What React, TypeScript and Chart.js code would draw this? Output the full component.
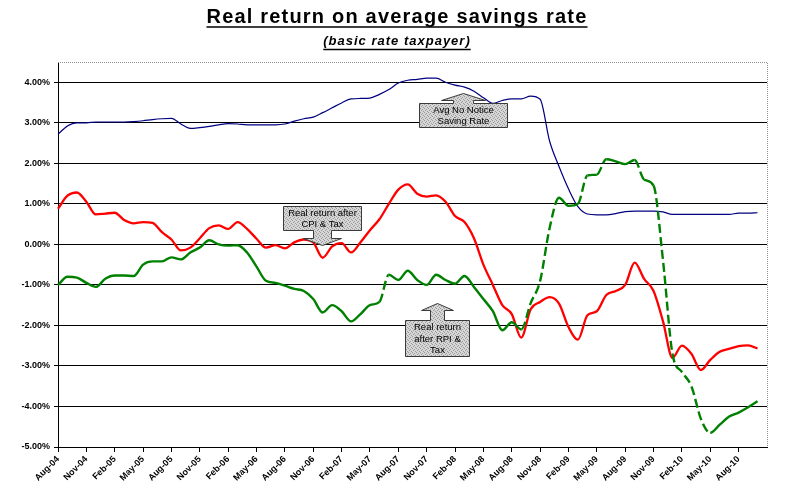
import React, { useEffect, useRef } from 'react';
import { Chart, registerables } from 'chart.js';

Chart.register(...registerables);

const FONT = "'Liberation Sans', Arial, sans-serif";

// monthly categories, Aug-04 .. Nov-10
const MONTHS = ['Jan', 'Feb', 'Mar', 'Apr', 'May', 'Jun', 'Jul', 'Aug', 'Sep', 'Oct', 'Nov', 'Dec'];
const categories: string[] = [];
for (let i = 0; i <= 75; i++) {
  const m = (7 + i) % 12;
  const yr = 4 + Math.floor((7 + i) / 12);
  categories.push(`${MONTHS[m]}-${String(yr).padStart(2, '0')}`);
}

// quarterly labels shown on the x axis
const tickLabels = [
  'Aug-04', 'Nov-04', 'Feb-05', 'May-05', 'Aug-05', 'Nov-05', 'Feb-06', 'May-06', 'Aug-06',
  'Nov-06', 'Feb-07', 'May-07', 'Aug-07', 'Nov-07', 'Feb-08', 'May-08', 'Aug-08', 'Nov-08',
  'Feb-09', 'May-09', 'Aug-09', 'Nov-09', 'Feb-10', 'May-10', 'Aug-10',
];

// Avg No Notice Saving Rate (%)
const savingRate = [
  2.72, 2.92, 3.0, 3.0, 3.02, 3.02, 3.02, 3.02, 3.03, 3.05,
  3.08, 3.1, 3.11, 2.97, 2.86, 2.88, 2.91, 2.95, 2.98, 2.97,
  2.95, 2.95, 2.95, 2.95, 2.97, 3.04, 3.1, 3.14, 3.25, 3.37,
  3.49, 3.59, 3.6, 3.61, 3.7, 3.82, 3.98, 4.05, 4.07, 4.1,
  4.1, 4.0, 3.93, 3.88, 3.78, 3.62, 3.48, 3.55, 3.59, 3.59,
  3.66, 3.58, 2.55, 1.92, 1.37, 0.93, 0.75, 0.73, 0.73, 0.76,
  0.81, 0.82, 0.82, 0.82, 0.8, 0.74, 0.74, 0.74, 0.74, 0.74,
  0.74, 0.74, 0.77, 0.77, 0.78,
];

// Real return after CPI & Tax (%)
const cpiReturn = [
  0.88, 1.2, 1.28, 1.05, 0.74, 0.76, 0.78, 0.6, 0.52, 0.55,
  0.53, 0.3, 0.12, -0.15, -0.08, 0.15, 0.4, 0.47, 0.38, 0.55,
  0.38, 0.14, -0.08, -0.02, -0.1, 0.05, 0.12, 0.05, -0.33, -0.05,
  0.03, -0.2, 0.05, 0.35, 0.62, 1.0, 1.35, 1.48, 1.25, 1.18,
  1.21, 1.05, 0.7, 0.55, 0.15, -0.5, -1.0, -1.5, -1.72, -2.3,
  -1.6, -1.42, -1.3, -1.46, -2.04, -2.35, -1.75, -1.65, -1.25, -1.15,
  -1.0, -0.45, -0.85, -1.15, -1.9, -2.8, -2.5, -2.7, -3.1, -2.85,
  -2.65, -2.58, -2.51, -2.49, -2.57,
];

// Real return after RPI & Tax (%)
const rpiReturn = [
  -1.0, -0.8, -0.82, -0.95, -1.05, -0.85, -0.77, -0.77, -0.78, -0.5,
  -0.42, -0.42, -0.32, -0.37, -0.2, -0.08, 0.1, 0.0, -0.03, -0.02,
  -0.2, -0.55, -0.9, -0.95, -1.02, -1.1, -1.15, -1.35, -1.68, -1.5,
  -1.65, -1.9, -1.72, -1.5, -1.42, -0.75, -0.88, -0.65, -0.88, -1.0,
  -0.75, -0.88, -0.97, -0.78, -1.05, -1.35, -1.65, -2.12, -1.92, -2.1,
  -1.45, -0.9, 0.4, 1.15, 0.95, 1.0, 1.7, 1.72, 2.1, 2.05,
  1.98, 2.08, 1.6, 1.45, -0.4, -2.7, -3.15, -3.5, -4.3, -4.65,
  -4.45, -4.25, -4.15, -4.02, -3.87,
];

// callout boxes, anchored in data units (month index, percent)
const callouts = [
  { lines: ['Avg No Notice', 'Saving Rate'], at: 42.8, value: 3.19, tip: 3.74, w: 87, h: 23 },
  { lines: ['Real return after', 'CPI & Tax'], at: 27.9, value: 0.64, tip: -0.02, w: 77, h: 24 },
  { lines: ['Real return', 'after RPI &', 'Tax'], at: 40.1, value: -2.32, tip: -1.45, w: 64, h: 36 },
];

function makePattern(ctx: CanvasRenderingContext2D) {
  const c = document.createElement('canvas');
  c.width = 4;
  c.height = 4;
  const p = c.getContext('2d')!;
  p.fillStyle = '#d6d6d6';
  p.fillRect(0, 0, 4, 4);
  p.fillStyle = '#9a9a9a';
  [[0, 0], [2, 1], [1, 2], [3, 3]].forEach(([x, y]) => p.fillRect(x, y, 1, 1));
  return ctx.createPattern(c, 'repeat');
}

const decorPlugin = {
  id: 'decor',
  afterDraw(chart: any) {
    const { ctx, chartArea, scales } = chart;
    const { left, right, top, bottom } = chartArea;
    ctx.save();

    // titles
    ctx.fillStyle = '#000';
    ctx.strokeStyle = '#000';
    ctx.textAlign = 'center';
    ctx.textBaseline = 'alphabetic';
    const cx = 397;
    ctx.font = `bold 20px ${FONT}`;
    (ctx as any).letterSpacing = '1.2px';
    const t1 = 'Real return on average savings rate';
    ctx.fillText(t1, cx, 23);
    let w = ctx.measureText(t1).width;
    ctx.lineWidth = 1.5;
    ctx.beginPath();
    ctx.moveTo(cx - w / 2, 27);
    ctx.lineTo(cx + w / 2, 27);
    ctx.stroke();

    ctx.font = `italic bold 13px ${FONT}`;
    (ctx as any).letterSpacing = '1px';
    const t2 = '(basic rate taxpayer)';
    ctx.fillText(t2, cx, 45);
    w = ctx.measureText(t2).width;
    ctx.beginPath();
    ctx.moveTo(cx - w / 2, 49.5);
    ctx.lineTo(cx + w / 2, 49.5);
    ctx.stroke();
    (ctx as any).letterSpacing = '0px';

    // dotted plot-area border (top and right)
    ctx.strokeStyle = '#909090';
    ctx.lineWidth = 1;
    ctx.setLineDash([1, 1]);
    ctx.beginPath();
    ctx.moveTo(left, top + 0.5);
    ctx.lineTo(right + 0.5, top + 0.5);
    ctx.lineTo(right + 0.5, bottom);
    ctx.stroke();
    ctx.setLineDash([]);

    // callouts
    const pattern = makePattern(ctx);
    callouts.forEach((c) => {
      const px = Math.round(scales.x.getPixelForValue(c.at)) + 0.5;
      const py = Math.round(scales.y.getPixelForValue(c.value)) + 0.5;
      const tipY = Math.round(scales.y.getPixelForValue(c.tip)) + 0.5;
      const bx0 = px - Math.round(c.w / 2);
      const bx1 = px + Math.round(c.w / 2);
      const by0 = py - Math.round(c.h / 2);
      const by1 = py + Math.round(c.h / 2);
      const up = tipY < by0;
      const s = up ? -1 : 1;
      const edge = up ? by0 : by1;
      const other = up ? by1 : by0;
      const hw = Math.round(c.w * 0.25);
      const sw = Math.round(c.w * 0.115);
      const headBase = tipY - s * 7;
      ctx.beginPath();
      ctx.moveTo(bx0, edge);
      ctx.lineTo(px - sw, edge);
      ctx.lineTo(px - sw, headBase);
      ctx.lineTo(px - hw, headBase);
      ctx.lineTo(px, tipY);
      ctx.lineTo(px + hw, headBase);
      ctx.lineTo(px + sw, headBase);
      ctx.lineTo(px + sw, edge);
      ctx.lineTo(bx1, edge);
      ctx.lineTo(bx1, other);
      ctx.lineTo(bx0, other);
      ctx.closePath();
      ctx.fillStyle = pattern || '#c8c8c8';
      ctx.fill();
      ctx.strokeStyle = '#3a3a3a';
      ctx.lineWidth = 1;
      ctx.stroke();

      ctx.fillStyle = '#000';
      ctx.font = `9.5px ${FONT}`;
      ctx.textAlign = 'center';
      ctx.textBaseline = 'middle';
      const lh = 11.3;
      const y0 = py - ((c.lines.length - 1) * lh) / 2;
      c.lines.forEach((line, i) => ctx.fillText(line, px, y0 + i * lh + 0.5));
    });

    ctx.restore();
  },
};

export default function App() {
  const canvasRef = useRef<HTMLCanvasElement>(null);

  useEffect(() => {
    document.body.style.margin = '0';
    const canvas = canvasRef.current;
    if (!canvas) return;

    const chart = new Chart(canvas, {
      type: 'line',
      data: {
        labels: categories,
        datasets: [
          {
            label: 'Real return after RPI & Tax',
            data: rpiReturn,
            borderColor: '#008000',
            borderWidth: 2.4,
            pointRadius: 0,
            cubicInterpolationMode: 'monotone',
            segment: {
              // steep stretches are drawn dashed, as in the source
              borderDash: (ctx: any) =>
                ctx.p0DataIndex === 34 ||
                (ctx.p0DataIndex >= 49 &&
                  Math.abs(rpiReturn[ctx.p1DataIndex] - rpiReturn[ctx.p0DataIndex]) > 0.25)
                  ? [9, 4]
                  : undefined,
            },
          },
          {
            label: 'Real return after CPI & Tax',
            data: cpiReturn,
            borderColor: '#ff0000',
            borderWidth: 2.3,
            pointRadius: 0,
            cubicInterpolationMode: 'monotone',
          },
          {
            label: 'Avg No Notice Saving Rate',
            data: savingRate,
            borderColor: '#000080',
            borderWidth: 1.2,
            pointRadius: 0,
            cubicInterpolationMode: 'monotone',
          },
        ],
      },
      options: {
        animation: false,
        responsive: true,
        maintainAspectRatio: false,
        color: '#000',
        layout: { padding: { top: 62, right: 19, left: 0, bottom: 0 } },
        plugins: {
          legend: { display: false },
          title: { display: false },
          tooltip: { enabled: false },
        },
        scales: {
          x: {
            type: 'category',
            offset: false,
            afterBuildTicks: (scale: any) => {
              scale.ticks = scale.ticks.filter((t: any) => tickLabels.includes(categories[t.value]));
            },
            afterFit: (scale: any) => {
              scale.height = 51;
            },
            grid: {
              display: true,
              drawOnChartArea: false,
              drawTicks: true,
              tickLength: 5,
              color: '#000',
            },
            border: { display: true, color: '#000', width: 1 },
            ticks: {
              autoSkip: false,
              minRotation: 45,
              maxRotation: 45,
              padding: 2,
              color: '#000',
              font: { family: FONT, size: 9, weight: 'bold' },
            },
          },
          y: {
            min: -5,
            max: 4.5,
            afterFit: (scale: any) => {
              scale.width = 58;
            },
            grid: {
              color: '#000',
              lineWidth: 1,
              drawTicks: true,
              tickLength: 4,
            },
            border: { display: true, color: '#000', width: 1 },
            ticks: {
              stepSize: 1,
              includeBounds: false,
              padding: 4,
              color: '#000',
              font: { family: FONT, size: 9, weight: 'bold' },
              callback: (v: any) => `${Number(v).toFixed(2)}%`,
            },
          },
        },
      },
      plugins: [decorPlugin],
    } as any);

    return () => chart.destroy();
  }, []);

  return (
    <div style={{ position: 'relative', width: 786, height: 498, background: '#fff' }}>
      <canvas ref={canvasRef} />
    </div>
  );
}
